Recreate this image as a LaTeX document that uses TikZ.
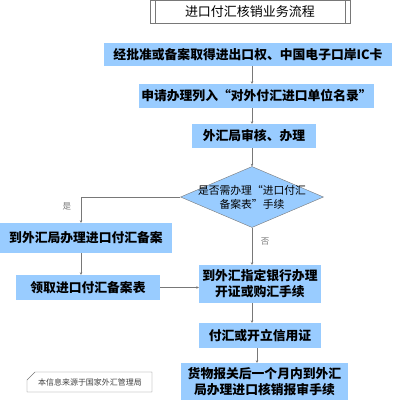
\documentclass[tikz,border=0pt]{standalone}
\usepackage{fontspec}
\newfontfamily\cjk{Noto Sans CJK SC}
\usetikzlibrary{arrows.meta,shapes.geometric}
\definecolor{boxblue}{RGB}{153,204,255}
\definecolor{linegray}{RGB}{120,120,120}
\tikzset{
  stepbox/.style={fill=boxblue, inner sep=0pt, align=center,
    font=\cjk\bfseries\fontsize{12.8}{16}\selectfont},
  decision/.style={shape=diamond, draw=linegray, fill=boxblue, inner sep=0pt,
    minimum width=143pt, minimum height=61pt},
  link/.style={draw=linegray, line width=0.7pt, -{Stealth[length=2.5pt,width=2.5pt]}},
  answer/.style={text=linegray, font=\cjk\fontsize{8.5}{10}\selectfont},
}
\begin{document}
\begin{tikzpicture}[x=1pt,y=-1pt]
  \useasboundingbox (0,0) rectangle (400,400);

  % Title
  \node[draw=linegray, minimum width=200pt, minimum height=23pt, inner sep=0pt,
    font=\cjk\fontsize{13}{15}\selectfont] (title) at (250,11.5) {进口付汇核销业务流程};
  \draw[linegray] ([xshift=5pt]title.north west) -- ([xshift=5pt]title.south west);
  \draw[linegray] ([xshift=-5pt]title.north east) -- ([xshift=-5pt]title.south east);

  % Main steps
  \node[stepbox, minimum width=288pt, minimum height=23pt] (b1) at (248,54.5) {经批准或备案取得进出口权、中国电子口岸IC卡};
  \node[stepbox, minimum width=235pt, minimum height=24pt] (b2) at (256.5,96) {申请办理列入“对外付汇进口单位名录”};
  \node[stepbox, minimum width=124pt, minimum height=24pt] (b3) at (254,136) {外汇局审核、办理};

  % Decision
  \node[decision] (ask) at (252,197) {};
  \node[align=center, inner sep=0pt, font=\cjk\fontsize{10.8}{14}\selectfont] (asktext) at (ask.center) {是否需办理“进口付汇\\备案表”手续};

  % Yes branch
  \node[stepbox, minimum width=172pt, minimum height=30pt] (b4) at (86,238) {到外汇局办理进口付汇备案};
  \node[stepbox, minimum width=144pt, minimum height=25pt] (b5) at (88,287.5) {领取进口付汇备案表};

  % Bank and closing steps
  \node[stepbox, minimum width=122pt, minimum height=38pt] (b6) at (260,284) {到外汇指定银行办理\\开证或购汇手续};
  \node[stepbox, minimum width=122pt, minimum height=25pt] (b7) at (260,335.5) {付汇或开立信用证};
  \node[stepbox, minimum width=167pt, minimum height=37pt] (b8) at (264.5,381.5) {货物报关后一个月内到外汇\\局办理进口核销报审手续};

  % Source note
  \draw[linegray] (27,380) -- (35,372) -- (152,372) -- (152,392) -- (27,392) -- cycle;
  \node[font=\cjk\fontsize{8}{10}\selectfont, text=black!75] (note) at (90,382) {本信息来源于国家外汇管理局};

  % Branch labels
  \node[answer] (yes) at (67,206) {是};
  \node[answer] (no) at (265,242) {否};

  % Arrows
  \coordinate (yescol) at (81,0);
  \coordinate (lastcol) at (257,0);
  \draw[link] (ask |- b1.south) -- (ask |- b2.north);
  \draw[link] (ask |- b2.south) -- (ask |- b3.north);
  \draw[link] (ask |- b3.south) -- (ask.north);
  \draw[link] (ask.west) -| (yescol |- b4.north);
  \draw[link] (yescol |- b4.south) -- (yescol |- b5.north);
  \draw[link] (b5.east) -- (b5.east -| b6.west);
  \draw[link] (ask.south) -- (ask |- b6.north);
  \draw[link] (ask |- b6.south) -- (ask |- b7.north);
  \draw[link] (lastcol |- b7.south) -- (lastcol |- b8.north);
\end{tikzpicture}
\end{document}
